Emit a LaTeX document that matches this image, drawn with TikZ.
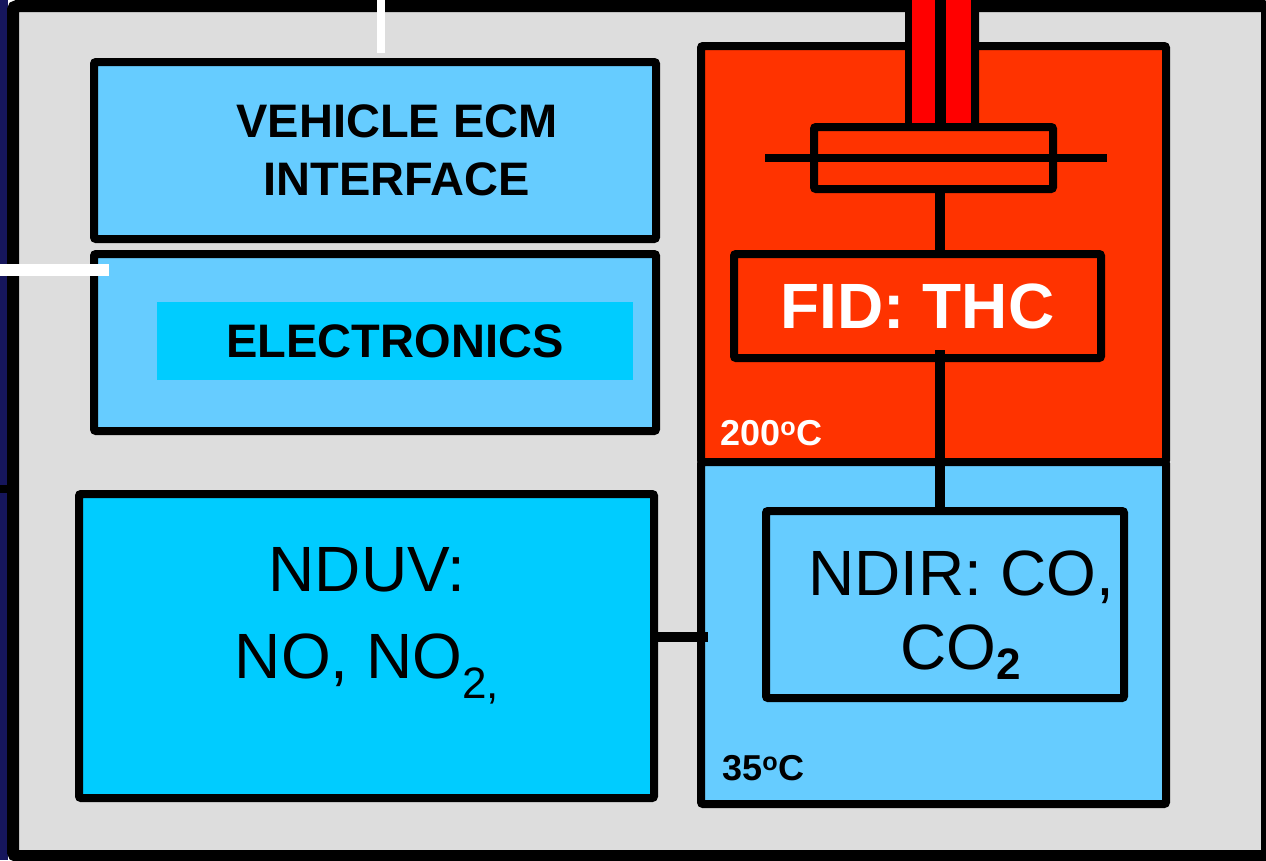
\documentclass[tikz,border=0pt]{standalone}
\usepackage{fontspec}
\setmainfont{Liberation Sans}
\usepackage{xcolor}
\usetikzlibrary{positioning}

\definecolor{panelgray}{HTML}{DDDDDD}
\definecolor{skyblue}{HTML}{66CCFF}
\definecolor{brightcyan}{HTML}{00CCFF}
\definecolor{hotorange}{HTML}{FF3300}
\definecolor{tubered}{HTML}{FF0000}
\definecolor{navyedge}{HTML}{16165C}

\begin{document}
\begin{tikzpicture}[
	x=1pt, y=-1pt,
	box/.style={draw, rectangle, rounded corners=2pt, line width=8pt, inner sep=0pt, fill=skyblue},
	zone/.style={draw, rectangle, rounded corners=2pt, line width=8pt, inner sep=0pt, minimum width=465pt},
	link/.style={line width=10pt},
	hdr/.style={font=\fontsize{47}{58}\selectfont\bfseries, align=center},
	gas/.style={font=\fontsize{64}{87}\selectfont, align=center},
	temp/.style={font=\fontsize{36}{40}\selectfont\bfseries, anchor=base west, inner sep=0pt}
]
	\clip (0,0) rectangle (1266,860);
	\fill[navyedge] (0,0) rectangle (8,860);
	\fill[black] (0,485) rectangle (8,493);
	\draw[line width=12pt, fill=panelgray, rounded corners=4pt] (13,6) rectangle (1267,856);

	% left column
	\node (ecm) [box, minimum width=562pt, minimum height=177pt] at (375,150.5) {};
	\node (ecmtext) [hdr] at (397,150) {VEHICLE ECM\\INTERFACE};
	\node (elec) [box, minimum width=562pt, minimum height=177pt, below=7pt of ecm] {};
	\node (elecbar) [hdr, fill=brightcyan, minimum width=476pt, minimum height=78pt, inner sep=0pt] at (395,341) {ELECTRONICS};
	\node (nduv) [box, fill=brightcyan, minimum width=575pt, minimum height=304pt] at (366.5,646) {};
	\node (nduvtext) [gas] at (367,626) {NDUV:\\NO, NO\raisebox{-0.32em}{\fontsize{44}{44}\selectfont 2,}};
	\draw[white, line width=8pt] (381,0) -- (381,53);
	\draw[white, line width=12pt] (0,270) -- (109,270);

	% heated and cooled zones
	\node (hot) [zone, fill=hotorange, minimum height=416pt] at (933.5,254) {};
	\node (cool) [zone, fill=skyblue, minimum height=342pt] at (933.5,633) {};
	\node (inj) [box, fill=hotorange, minimum width=239pt, minimum height=62pt] at (933.5,158) {};
	\node (tube) [fill=black, rounded corners=2pt, minimum width=74pt, minimum height=150pt, inner sep=0pt, anchor=south] at (942,131) {};
	\fill[tubered] (912,0) rectangle (935,123);
	\fill[tubered] (946,0) rectangle (971,123);
	\draw[line width=8pt] ([xshift=-45pt]inj.west) -- ([xshift=50pt]inj.east);
	\node (fid) [box, fill=hotorange, minimum width=367pt, minimum height=104pt, text=white, font=\fontsize{64}{70}\selectfont\bfseries] at (917.5,306) {FID: THC};
	\node (ndir) [box, minimum width=358pt, minimum height=187pt] at (945,604.5) {};
	\node (ndirtext) [gas, font=\fontsize{64}{74}\selectfont] at (961,615) {NDIR: CO,\\CO\raisebox{-0.15em}{\fontsize{44}{44}\selectfont\bfseries 2}};

	\coordinate (stem) at (940,0);
	\coordinate (fidlow) at ([yshift=12pt]fid.south);
	\coordinate (tap) at (708,637);
	\draw[link] (inj.south -| stem) -- (fid.north -| stem);
	\draw[link] (fidlow -| stem) -- (ndir.north -| stem);
	\draw[link] (nduv.east |- tap) -- (tap);

	\node (hotlabel) [temp, text=white] at (720,445) {200\textsuperscript{o}C};
	\node (coollabel) [temp] at (722,780) {35\textsuperscript{o}C};
\end{tikzpicture}
\end{document}
